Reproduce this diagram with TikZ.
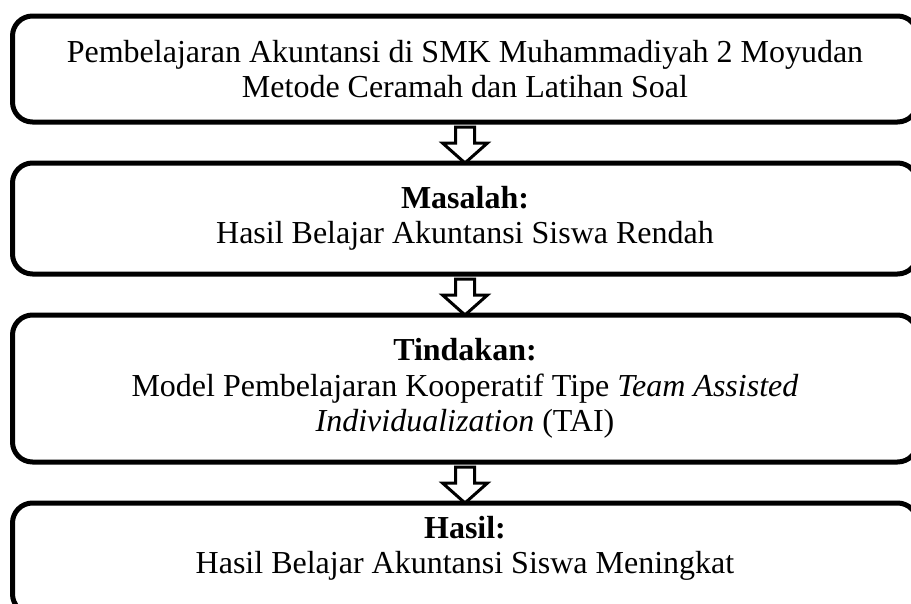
\documentclass[tikz,border=0pt]{standalone}
\usepackage{fontspec}
\setmainfont{Liberation Serif}
\usetikzlibrary{positioning}

\tikzset{
  kotak/.style={draw, line width=5pt, rounded corners=20pt, outer sep=0pt,
    minimum width=905pt, align=center, font=\fontsize{32}{35.5}\selectfont},
  panah/.style={draw, line width=3pt, line join=miter}
}

\begin{document}
\begin{tikzpicture}[x=1pt,y=1pt,node distance=41pt]
\useasboundingbox (0,0) rectangle (911,-603);
\clip (0,0) rectangle (911,-603);
% kotak alur
\node[kotak, minimum height=106pt] (awal) at (465,-69)
  {Pembelajaran Akuntansi di SMK Muhammadiyah 2 Moyudan\\ Metode Ceramah dan Latihan Soal};
\node[kotak, minimum height=111pt, below=of awal] (masalah)
  {\textbf{Masalah:}\\ Hasil Belajar Akuntansi Siswa Rendah};
\node[kotak, minimum height=147pt, below=of masalah] (tindakan)
  {\textbf{Tindakan:}\\ Model Pembelajaran Kooperatif Tipe \textit{Team Assisted}\\ \textit{Individualization} (TAI)};
\node[kotak, minimum height=111pt, text depth=27pt, below=of tindakan] (hasil)
  {\textbf{Hasil:}\\ Hasil Belajar Akuntansi Siswa Meningkat};
% panah kosong
\foreach \atas/\bawah in {awal/masalah, masalah/tindakan, tindakan/hasil}
  \draw[panah] ([xshift=-9.5pt,yshift=-5pt]\atas.south)
    |- ([xshift=-22.5pt,yshift=20pt]\bawah.north) -- (\bawah.north)
    -- ([xshift=22.5pt,yshift=20pt]\bawah.north)
    -| ([xshift=9.5pt,yshift=-5pt]\atas.south) -- cycle;
\end{tikzpicture}
\end{document}
